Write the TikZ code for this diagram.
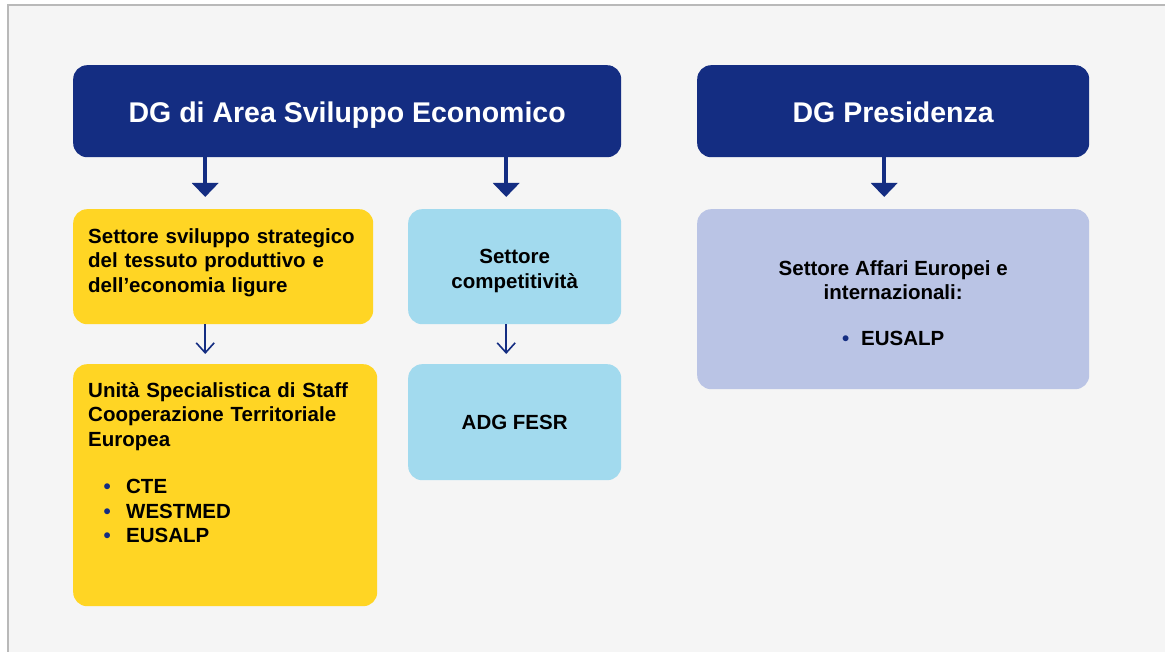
\documentclass[tikz,border=0pt]{standalone}
\usepackage{fontspec}
\setmainfont{Liberation Sans}
\usepackage{xcolor}
\usetikzlibrary{arrows.meta,shapes}
\definecolor{navy}{RGB}{20,45,130}
\definecolor{giallo}{RGB}{255,213,36}
\definecolor{azzurro}{RGB}{162,218,238}
\definecolor{lilla}{RGB}{186,196,229}
\definecolor{sfondo}{RGB}{245,245,245}
\definecolor{bordo}{RGB}{185,185,185}
\newcommand{\corner}{14pt}
\newcommand{\titlesize}{\fontsize{28.5}{34}\selectfont}
\newcommand{\boxsize}{\fontsize{20.5}{24.3}\selectfont}
\newcommand{\pallino}{{\color{navy}\textbullet}}
\newcommand{\alto}{\rule{0pt}{23pt}}

\begin{document}
\begin{tikzpicture}[x=1pt,y=-1pt]
    \begin{scope}
        %\draw[help lines] (0,0) grid[step=50] (1165,652);
        \tikzset{box/.style = {rectangle, rounded corners=\corner, anchor=north west, inner sep=0pt, align=center, font=\boxsize\bfseries}}
        \tikzset{dgbox/.style = {box, fill=navy, text=white, font=\titlesize\bfseries, text height=23.5pt, text depth=0pt}}
        \tikzset{boxtext/.style = {anchor=base west, inner sep=0pt, align=left, font=\boxsize\bfseries}}
        \tikzset{bigarrow/.style = {navy, line width=4.5pt, -{Triangle[width=26pt,length=14pt]}, shorten >=12pt}}
        \tikzset{smallarrow/.style = {navy, line width=1.6pt, -{Straight Barb[width=18pt,length=10pt]}, shorten >=10pt}}

        \useasboundingbox (0,0) rectangle (1165,652);
        \fill[white] (0,0) rectangle (1165,652);
        \fill[sfondo] (8,5) rectangle (1165,652);
        \draw[bordo, line width=1.5pt] (8,652) -- (8,5) -- (1165,5);

        % direzioni generali
        \node[dgbox, minimum width=548pt, minimum height=92pt] (dgarea) at (73,65) {DG di Area Sviluppo Economico};
        \node[dgbox, minimum width=392pt, minimum height=92pt] (dgpres) at (697,65) {DG Presidenza};

        % settori
        \node[box, fill=giallo, minimum width=300pt, minimum height=115pt] (sviluppo) at (73,209) {};
        \node[boxtext, text width=280pt] (sviluppotxt) at ([shift={(15,34.5)}]sviluppo.north west)
            {Settore sviluppo strategico\\del tessuto produttivo e\\dell’economia ligure};
        \node[box, fill=azzurro, minimum width=213pt, minimum height=115pt] (compet) at (408,209) {\alto Settore\\competitività};
        \node[box, fill=lilla, minimum width=392pt, minimum height=180pt] (affari) at (697,209)
            {\alto Settore Affari Europei e\\internazionali:\\[22pt]\pallino\hspace{12pt}EUSALP};

        % unita
        \node[box, fill=giallo, minimum width=304pt, minimum height=242pt] (unita) at (73,364) {};
        \node[boxtext, text width=285pt] (unitatxt) at ([shift={(15,33.5)}]unita.north west)
            {Unità Specialistica di Staff\\Cooperazione Territoriale\\Europea\\[23.5pt]%
             \hspace*{15.4pt}\pallino\hspace{15.4pt}CTE\\
             \hspace*{15.4pt}\pallino\hspace{15.4pt}WESTMED\\
             \hspace*{15.4pt}\pallino\hspace{15.4pt}EUSALP};
        \node[box, fill=azzurro, minimum width=213pt, minimum height=116pt] (adg) at (408,364) {ADG FESR};

        \draw[bigarrow] ([xshift=-18pt]sviluppo.north |- dgarea.south) -- ([xshift=-18pt]sviluppo.north);
        \draw[bigarrow] ([xshift=-8.5pt]compet.north |- dgarea.south) -- ([xshift=-8.5pt]compet.north);
        \draw[bigarrow] ([xshift=-9pt]affari.north |- dgpres.south) -- ([xshift=-9pt]affari.north);

        \draw[smallarrow] ([xshift=-18pt]sviluppo.south) -- ([xshift=-18pt]sviluppo.south |- unita.north);
        \draw[smallarrow] ([xshift=-8.5pt]compet.south) -- ([xshift=-8.5pt]compet.south |- adg.north);
    \end{scope}
\end{tikzpicture}
\end{document}
